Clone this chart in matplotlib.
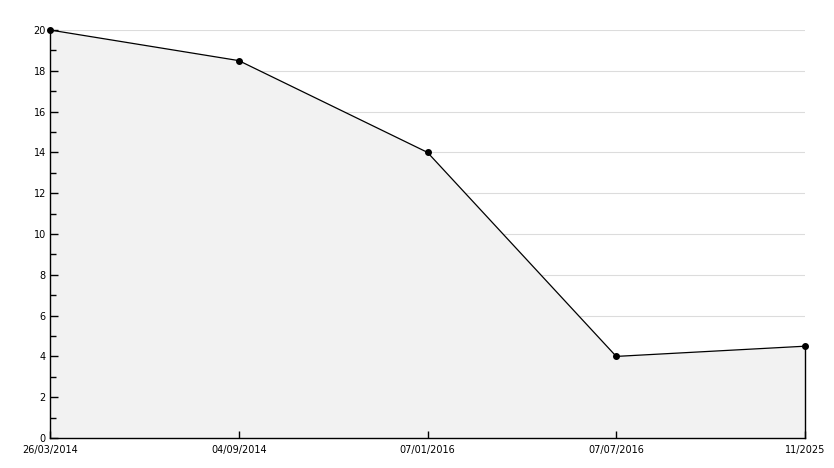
import numpy as np
import matplotlib
matplotlib.use('Agg')
import matplotlib.pyplot as plt

######################################

dates=['26/03/2014','04/09/2014','07/01/2016','07/07/2016','11/2025']
values=[20,18.5,14,4,4.5]

######################################

fig=plt.figure(figsize=(8.34,4.68),dpi=100)
ax=fig.add_axes([50/834,30/468,755/834,408/468])

x=np.arange(len(dates))

# grid behind the fill
for yv in range(2,21,2):
  ax.axhline(yv,color='#dcdcdc',lw=0.8,zorder=0)

ax.fill_between(x,values,0,color='#f2f2f2',zorder=1,lw=0)
ax.plot([x[-1],x[-1]],[0,values[-1]],color='black',lw=1,zorder=2,clip_on=False)
ax.plot(x,values,color='black',lw=0.9,marker='o',ms=4,zorder=3,clip_on=False)

ax.set_xlim(0,len(dates)-1)
ax.set_ylim(0,20)
ax.set_xticks(x)
ax.set_xticklabels(dates)
ax.set_yticks(range(0,21,2))
ax.set_yticks(range(1,20,2),minor=True)

for s in ['top','right']:
  ax.spines[s].set_visible(False)
ax.spines['left'].set_linewidth(1)
ax.spines['bottom'].set_linewidth(1)

ax.tick_params(axis='y',which='major',direction='in',length=6,width=1,labelsize=7,pad=3)
ax.tick_params(axis='y',which='minor',direction='in',length=4,width=1)
ax.tick_params(axis='x',direction='in',length=5,width=1,labelsize=7,pad=5)
ax.set_facecolor('white')

fig.savefig('out.png',dpi=100)
